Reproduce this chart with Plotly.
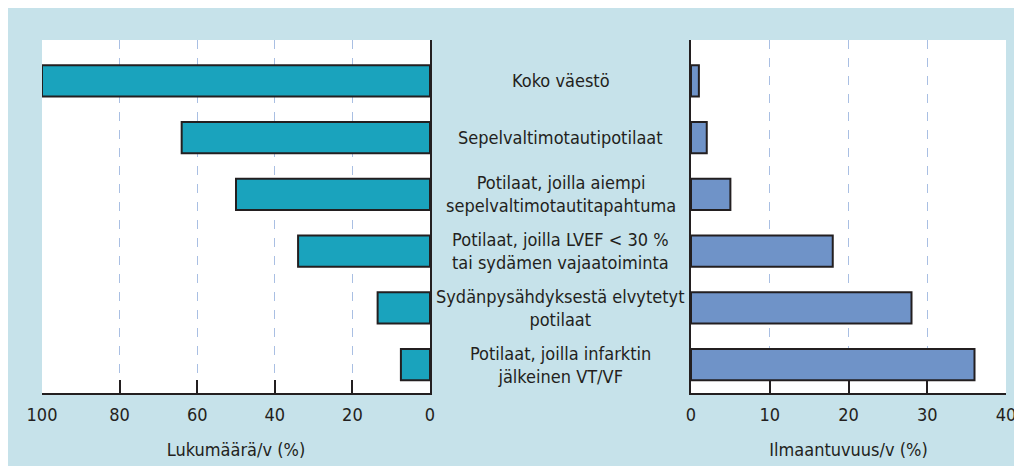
import plotly.graph_objects as go

categories = [
    "Koko väestö",
    "Sepelvaltimotautipotilaat",
    "Potilaat, joilla aiempi<br>sepelvaltimotautitapahtuma",
    "Potilaat, joilla LVEF < 30 %<br>tai sydämen vajaatoiminta",
    "Sydänpysähdyksestä elvytetyt<br>potilaat",
    "Potilaat, joilla infarktin<br>jälkeinen VT/VF",
]
lukumaara = [100, 64, 50, 34, 13.5, 7.5]
ilmaantuvuus = [1, 2, 5, 18, 28, 36]
left_ticks = [0, 20, 40, 60, 80, 100]
right_ticks = [0, 10, 20, 30, 40]

# page body has an 8px margin, so the figure starts at (8, 8)
W, H = 1014, 458
OFF = 8
FONT = "DejaVu Sans Condensed, Liberation Sans Narrow, Arial Narrow, sans-serif"
TXT = "#231f20"
BG = "#c6e2ea"
GRID = "#a9bfe3"

fig = go.Figure()
fig.add_trace(go.Bar(
    y=categories, x=lukumaara, orientation="h", xaxis="x", yaxis="y",
    marker=dict(color="#1aa3bd", line=dict(color=TXT, width=2)), width=0.55,
    showlegend=False, hoverinfo="x+y",
))
fig.add_trace(go.Bar(
    y=categories, x=ilmaantuvuus, orientation="h", xaxis="x2", yaxis="y2",
    marker=dict(color="#6f93c8", line=dict(color=TXT, width=2)), width=0.55,
    showlegend=False, hoverinfo="x+y",
))

ydom = [1 - (393 - OFF) / H, 1 - (40 - OFF) / H]
yrange = [5.5, -0.72]

common_x = dict(
    showline=True, linecolor=TXT, linewidth=2,
    ticks="inside", ticklen=13, tickwidth=2, tickcolor=TXT,
    showgrid=True, gridcolor=GRID, gridwidth=1, griddash="dash",
    zeroline=False, tickfont=dict(family=FONT, size=18, color=TXT),
    ticklabelstandoff=4, automargin=False,
    title_font=dict(family=FONT, size=18, color=TXT),
)

fig.update_layout(
    width=W, height=H,
    margin=dict(l=0, r=0, t=0, b=0),
    paper_bgcolor=BG, plot_bgcolor="white",
    xaxis=dict(domain=[(42 - OFF) / W, (430 - OFF) / W], range=[100, 0], tickvals=left_ticks,
               anchor="y", title=dict(text="Lukumäärä/v (%)", standoff=20), **common_x),
    xaxis2=dict(domain=[(691 - OFF) / W, (1006 - OFF) / W], range=[0, 40], tickvals=right_ticks,
                anchor="y2", title=dict(text="Ilmaantuvuus/v (%)", standoff=20), **common_x),
    yaxis=dict(domain=ydom, range=yrange, anchor="x", side="right",
               showline=True, linecolor=TXT, linewidth=2, showticklabels=False,
               ticks="", showgrid=False, zeroline=False, automargin=False),
    yaxis2=dict(domain=ydom, range=yrange, anchor="x2", side="left",
                showline=True, linecolor=TXT, linewidth=2, showticklabels=False,
                ticks="", showgrid=False, zeroline=False, automargin=False),
)

for cat in categories:
    fig.add_annotation(
        x=(560.5 - OFF) / W, xref="paper", y=cat, yref="y", text=cat, showarrow=False,
        align="center", xanchor="center", yanchor="middle",
        font=dict(family=FONT, size=18, color=TXT),
    )

fig.write_html("out.html")
